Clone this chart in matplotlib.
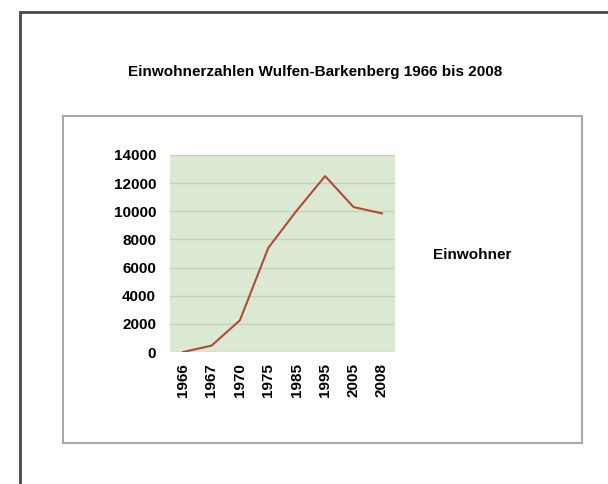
import matplotlib
matplotlib.use("Agg")
import matplotlib.pyplot as plt
from matplotlib.patches import Rectangle

years = ["1966", "1967", "1970", "1975", "1985", "1995", "2005", "2008"]
einwohner = [0, 450, 2250, 7400, 10050, 12500, 10300, 9850]
y_ticks = [0, 2000, 4000, 6000, 8000, 10000, 12000, 14000]
title = "Einwohnerzahlen Wulfen-Barkenberg 1966 bis 2008"
series_name = "Einwohner"

W, H = 608, 484
plt.rcParams['font.family'] = ['Liberation Sans', 'DejaVu Sans']
fig = plt.figure(figsize=(W / 100, H / 100), dpi=100)
fig.patch.set_facecolor("white")

def fx(px):
    return px / W

def fy(py):
    return 1 - py / H

# outer frame (extends past right and bottom edge)
fig.patches.append(Rectangle((fx(20), fy(520)), fx(640) - fx(20), fy(12) - fy(520),
                             transform=fig.transFigure, fill=False,
                             edgecolor="#484848", linewidth=2, zorder=0))
# inner chart box
fig.patches.append(Rectangle((fx(63), fy(443)), fx(582) - fx(63), fy(116) - fy(443),
                             transform=fig.transFigure, fill=False,
                             edgecolor="#a8a8a8", linewidth=1.5, zorder=0))

ax = fig.add_axes([fx(170), fy(352), fx(395) - fx(170), fy(155) - fy(352)])
ax.set_facecolor("#dbe9d2")
x = list(range(len(years)))
ax.plot(x, einwohner, color="#b24a38", linewidth=1.5)
ax.set_xlim(-0.46, len(years) - 1 + 0.46)
ax.set_ylim(0, 14000)
ax.set_yticks(y_ticks)
ax.set_yticklabels([str(v) for v in y_ticks], fontsize=11, fontweight="bold")
ax.set_xticks(x)
ax.set_xticklabels(years, rotation=90, fontsize=11, fontweight="bold")
ax.tick_params(axis="both", length=0)
ax.tick_params(axis="y", pad=10)
ax.tick_params(axis="x", pad=8)
for s in ax.spines.values():
    s.set_visible(False)
ax.yaxis.grid(True, color="#c4d4ba", linewidth=1)
ax.set_axisbelow(True)

fig.text(fx(315), fy(72), title, ha="center", va="center", fontsize=11, fontweight="bold")
fig.text(fx(433), fy(255), series_name, ha="left", va="center", fontsize=11, fontweight="bold")

fig.savefig("out.png", dpi=100, facecolor="white")
